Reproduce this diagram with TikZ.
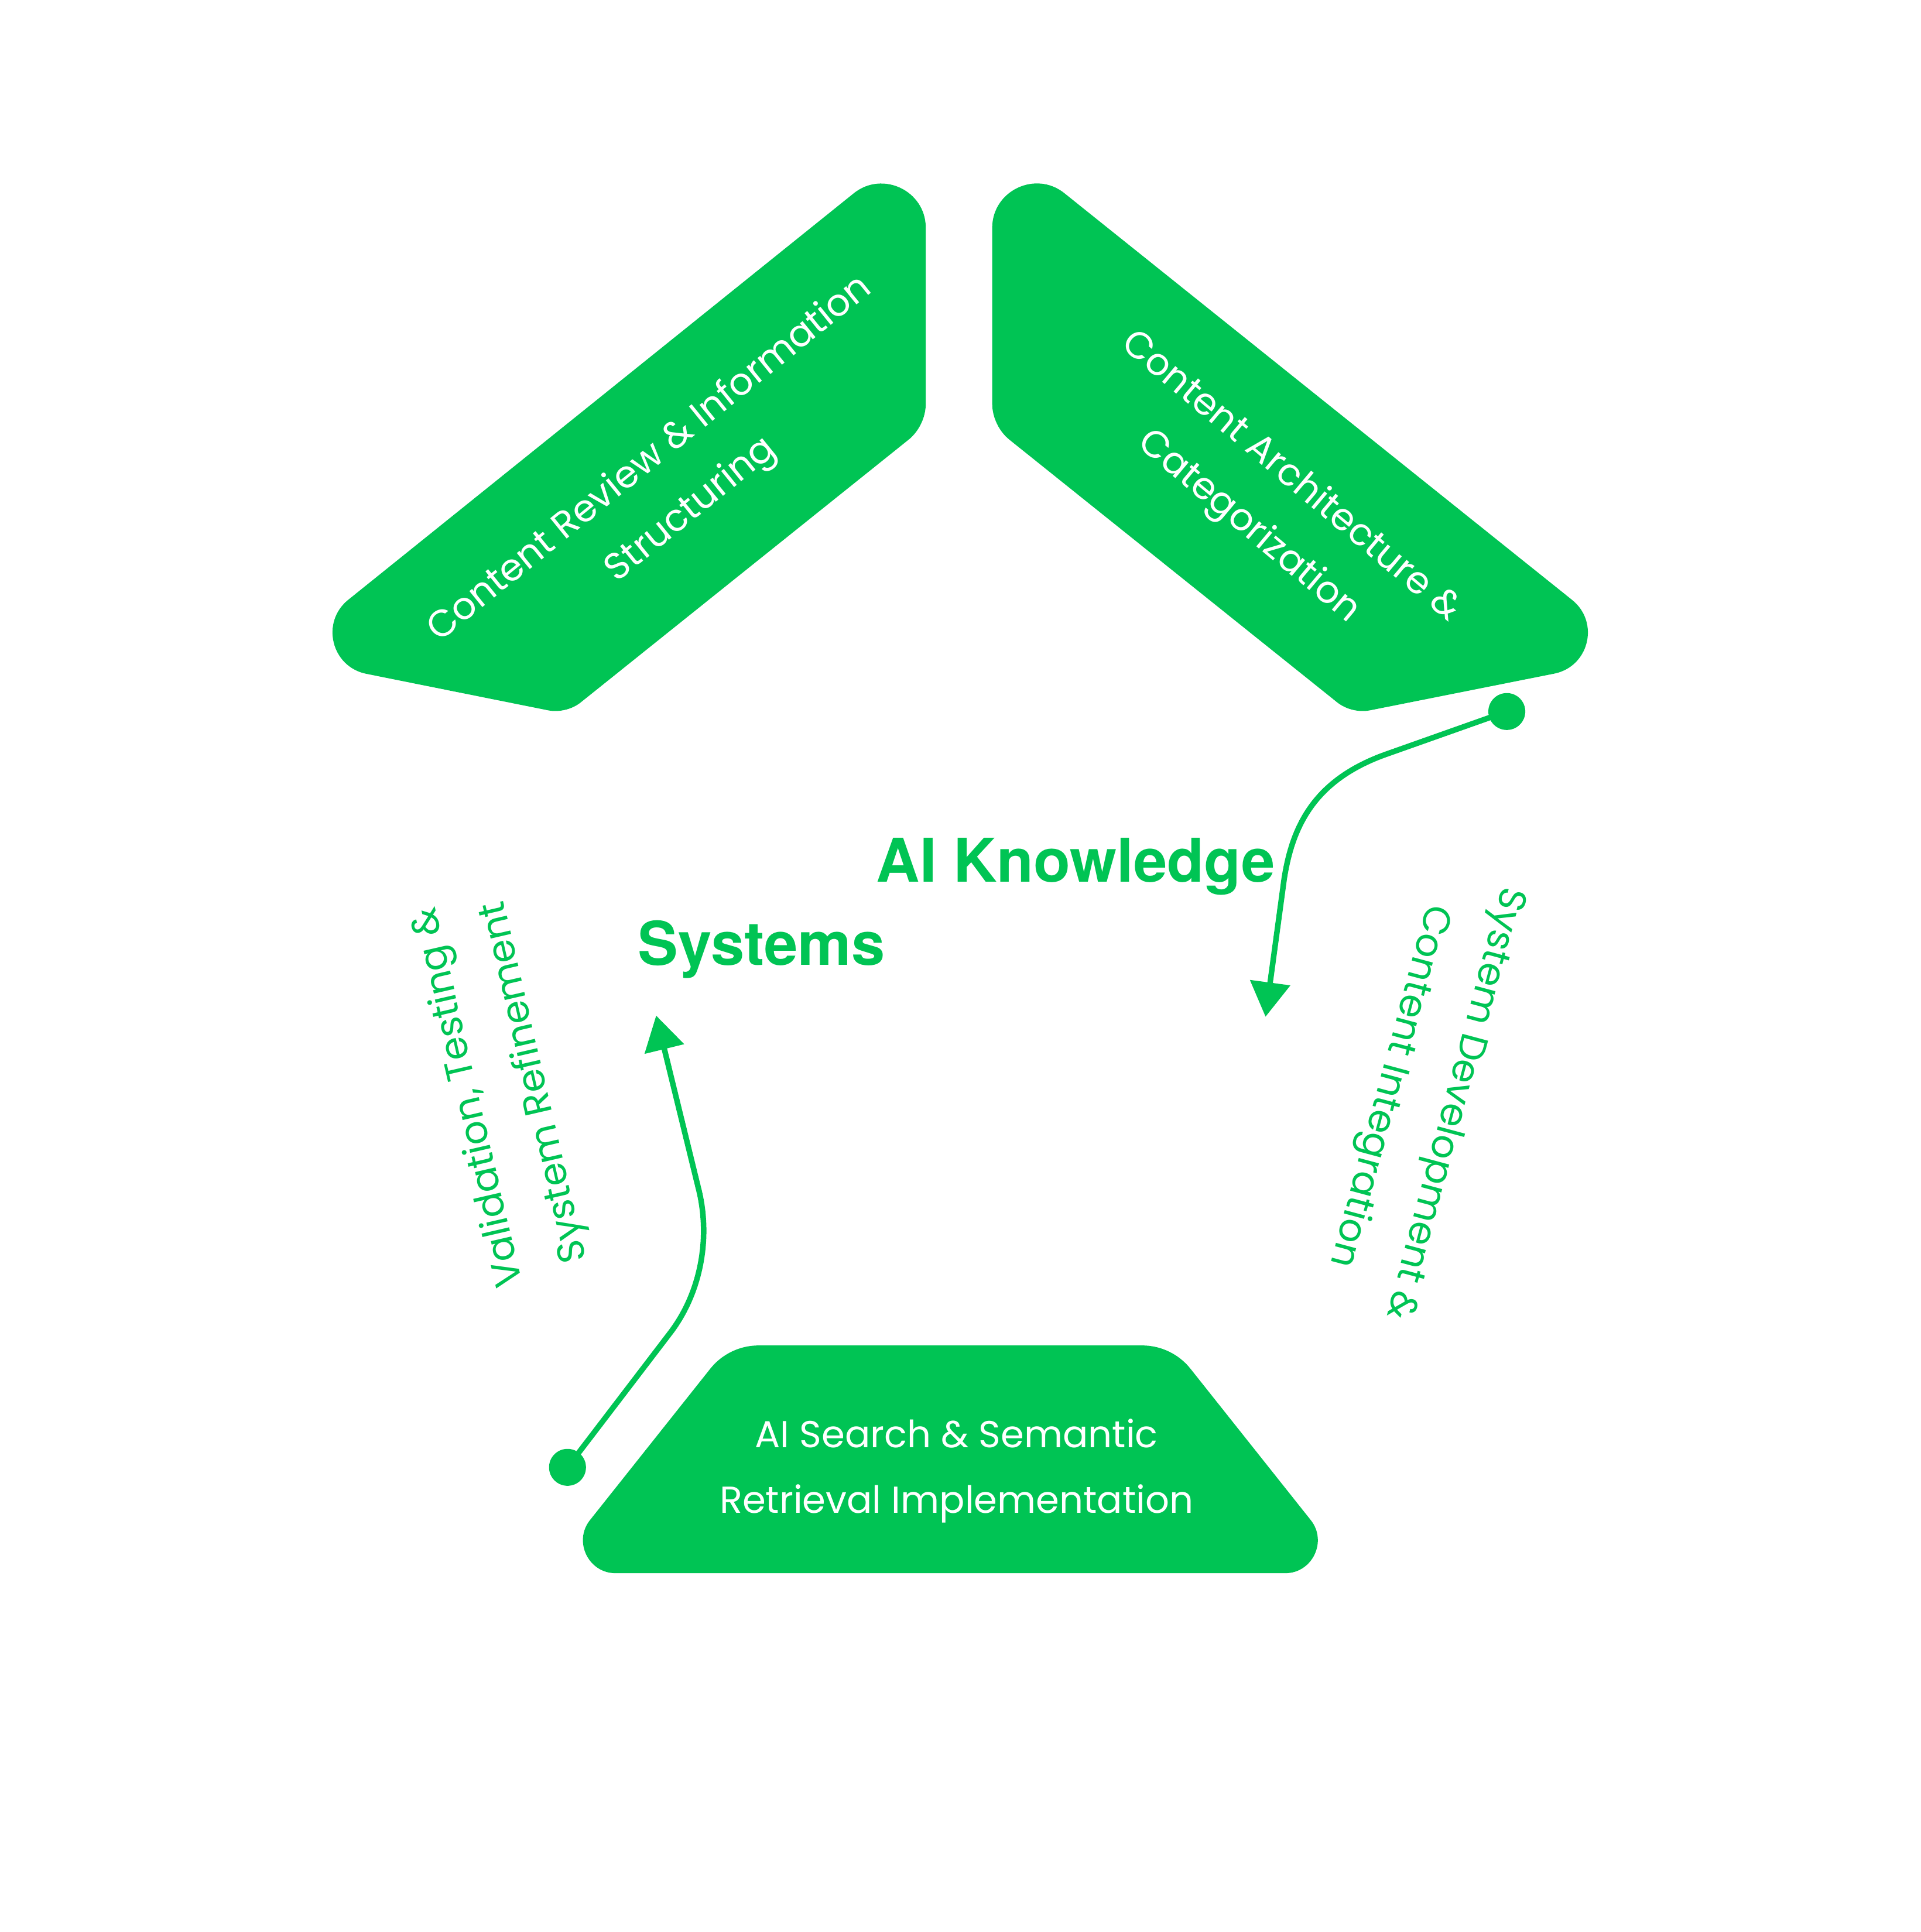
\documentclass[tikz,border=0pt]{standalone}
\usepackage{fontspec}
\usetikzlibrary{arrows.meta,calc}
\setmainfont{Poppins}
\newfontfamily\titlefont{TeX Gyre Heros}
\definecolor{brandgreen}{RGB}{0,196,84}
% rounded corner at vertex #1 between #2 (previous) and #3 (next): cut #4, control at #5 from vertex
\newcommand\rcorner[5]{-- ($(#1)!#4pt!(#2)$) .. controls ($(#1)!#5pt!(#2)$) and ($(#1)!#5pt!(#3)$) .. ($(#1)!#4pt!(#3)$)}
\begin{document}
\begin{tikzpicture}[x=1pt,y=-1pt,
  lbl/.style={text=white, align=center, font=\fontsize{30.5}{53}\selectfont},
  sidelbl/.style={text=brandgreen, align=center, font=\fontsize{31}{55}\selectfont},
  flow/.style={draw=brandgreen, line width=4.5pt, -{Triangle[length=28pt,width=32pt]}},
  dot/.style={circle, fill=brandgreen, minimum size=30pt, inner sep=0pt}]
\fill[white] (0,0) rectangle (1560,1569.5);
\useasboundingbox (0,0) rectangle (1560,1569.5);
% vertices
\coordinate (a1) at (752,110); \coordinate (a2) at (752,346);
\coordinate (a3) at (460,580); \coordinate (a4) at (226,533);
\coordinate (b1) at (806,110); \coordinate (b2) at (806,346);
\coordinate (b3) at (1098,580); \coordinate (b4) at (1334,533);
\coordinate (c1) at (592,1093); \coordinate (c2) at (952,1093);
\coordinate (c3) at (1099,1278); \coordinate (c4) at (445,1278);
% top-left segment
\fill[brandgreen] ($(a4)!0.5!(a1)$) \rcorner{a1}{a4}{a2}{75}{45} \rcorner{a2}{a1}{a3}{18}{7}
  \rcorner{a3}{a2}{a4}{15}{6} \rcorner{a4}{a3}{a1}{73}{44} -- cycle;
% top-right segment
\fill[brandgreen] ($(b4)!0.5!(b1)$) \rcorner{b1}{b4}{b2}{75}{45} \rcorner{b2}{b1}{b3}{18}{7}
  \rcorner{b3}{b2}{b4}{15}{6} \rcorner{b4}{b3}{b1}{73}{44} -- cycle;
% bottom segment
\fill[brandgreen] ($(c1)!0.5!(c2)$) \rcorner{c2}{c1}{c3}{24}{9} \rcorner{c3}{c2}{c4}{55}{33}
  \rcorner{c4}{c3}{c1}{55}{33} \rcorner{c1}{c4}{c2}{24}{9} -- cycle;
% labels in segments
\node[lbl, rotate=39] (tl) at (545,394) {Content Review \& Information\\Structuring};
\node[lbl, rotate=-40] (tr) at (1031,408) {Content Architecture \&\\Categorization};
\node[lbl] (bt) at (777,1195) {AI Search \& Semantic\\Retrieval Implementation};
% side labels
\node[sidelbl, rotate=103] (lf) at (408,885) {Validation, Testing \&\\System Refinement};
\node[sidelbl, rotate=-105] (rt) at (1154,889) {System Development \&\\Content Integration};
% title
\node[align=center, font=\titlefont\bfseries\fontsize{49}{67.5}\selectfont] (title) at (769,766)
  {\textcolor{white}{Building} \textcolor{brandgreen}{AI Knowledge}\\
   \textcolor{brandgreen}{Systems} \textcolor{white}{for Accurate}\\
   \textcolor{white}{Retrieval}};
% connectors
\node[dot] (dotR) at (1224,578) {};
\node[dot] (dotL) at (461,1192) {};
\coordinate (tipR) at (1028,826);
\coordinate (tipL) at (533,825);
\draw[flow] (dotR.center) -- (1128,612) .. controls (1070,632) and (1050,668) .. (1043,715) -- (tipR);
\draw[flow] (dotL.center) -- (545,1082) .. controls (569,1050) and (577,1007) .. (568,968) -- (tipL);
\end{tikzpicture}
\end{document}
